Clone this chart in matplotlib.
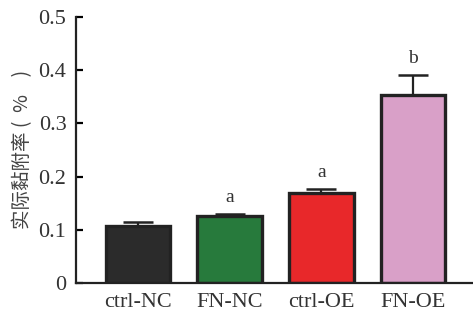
import numpy as np
import matplotlib.pyplot as plt

plt.rcParams['font.family'] = ['Liberation Serif', 'Noto Sans CJK SC', 'DejaVu Sans']

# group names, means and upper error (SD)
groups = ['ctrl-NC', 'FN-NC', 'ctrl-OE', 'FN-OE']
means = [0.107, 0.126, 0.169, 0.354]
errors = [0.008, 0.004, 0.008, 0.037]
letters = ['', 'a', 'a', 'b']
colors = ['#2b2b2b', '#277a3c', '#e8282a', '#d9a0c8']

fig = plt.figure(figsize=(4.73, 3.2), dpi=100)
ax = fig.add_axes([0.161, 0.116, 0.839, 0.831])

x = np.arange(len(groups))
ax.bar(x, means, width=0.7, color=colors, edgecolor='#222222', linewidth=2.4, zorder=2)
ax.errorbar(x, means, yerr=[np.zeros(len(means)), errors], fmt='none',
            ecolor='#222222', elinewidth=1.6, capsize=11, capthick=1.8, zorder=1)

for xi, m, e, t in zip(x, means, errors, letters):
    if t:
        ax.text(xi, m + e + 0.014, t, ha='center', va='bottom', fontsize=14, color='#333333')

ax.set_xlim(-0.67, 3.65)
ax.set_ylim(0, 0.5)
ax.set_yticks([0, 0.1, 0.2, 0.3, 0.4, 0.5])
ax.set_yticklabels(['0', '0.1', '0.2', '0.3', '0.4', '0.5'])
ax.set_xticks(x)
ax.set_xticklabels(groups)
ax.tick_params(axis='y', direction='in', length=5, width=1.6, labelsize=16, pad=7,
               labelcolor='#333333')
ax.tick_params(axis='x', length=0, labelsize=16, pad=7, labelcolor='#333333')
ax.set_ylabel('实际黏附率 (  %    )', fontsize=14,
              family=['Noto Sans CJK SC', 'DejaVu Sans'], labelpad=4, color='#444444')

for s in ['top', 'right']:
    ax.spines[s].set_visible(False)
for s in ['left', 'bottom']:
    ax.spines[s].set_linewidth(1.6)
    ax.spines[s].set_color('#222222')

plt.savefig('out.png', dpi=100)
